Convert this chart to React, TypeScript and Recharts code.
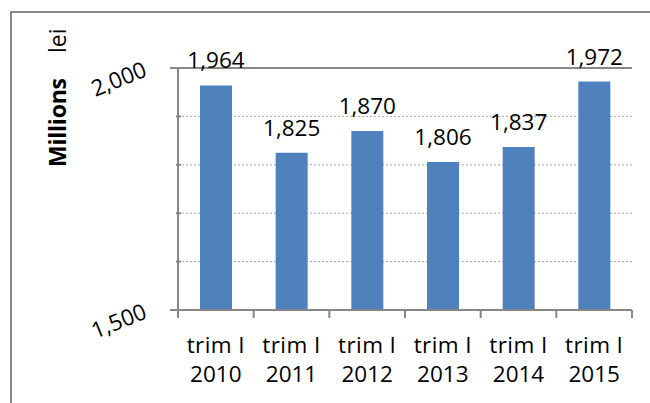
import React from 'react';
import { BarChart, Bar, XAxis, YAxis, CartesianGrid, ReferenceLine, LabelList } from 'recharts';

// first quarter of each year, millions lei
const years = ['2010', '2011', '2012', '2013', '2014', '2015'];
const quarterLabel = 'trim I';
const values = [1964, 1825, 1870, 1806, 1837, 1972];
const yTicks = [1500, 1600, 1700, 1800, 1900, 2000];
const majorTicks = [1500, 2000];

const W = 650;
const H = 403;
const PLOT_LEFT = 178;
const PLOT_RIGHT = 18;
const PLOT_TOP = 68;
const X_AXIS_H = 93;
const BAND = (W - PLOT_LEFT - PLOT_RIGHT) / years.length;

const FONT = '"Open Sans", Lato, sans-serif';
const AXIS_COLOR = '#878787';
const GRID_COLOR = '#a8a8a8';
const BAR_COLOR = '#4f81bd';

const data = years.map((year, i) => ({ name: year, value: values[i] }));

const fmt = (v: number) => v.toLocaleString('en-US');

const YTick = ({ x, y, payload }: any) => {
  const axisX = x + 8;
  const major = majorTicks.includes(payload.value);
  return (
    <g>
      <line
        x1={major ? axisX - 8 : axisX - 2}
        x2={major ? axisX : axisX + 3}
        y1={y}
        y2={y}
        stroke={AXIS_COLOR}
        strokeWidth={2}
      />
      {major && (
        <text
          x={axisX - 32}
          y={y + 2}
          transform={`rotate(-22 ${axisX - 32} ${y + 2})`}
          textAnchor="end"
          dominantBaseline="middle"
          fontFamily={FONT}
          fontSize={22.5}
          fill="#000"
        >
          {fmt(payload.value)}
        </text>
      )}
    </g>
  );
};

const XTick = ({ x, y, payload, index }: any) => {
  const axisY = y - 8;
  const left = x - BAND / 2;
  const right = x + BAND / 2;
  return (
    <g>
      <line x1={left} x2={left} y1={axisY} y2={axisY + 8} stroke={AXIS_COLOR} strokeWidth={2} />
      {index === years.length - 1 && (
        <line x1={right} x2={right} y1={axisY} y2={axisY + 8} stroke={AXIS_COLOR} strokeWidth={2} />
      )}
      <text x={x} y={y + 35} textAnchor="middle" fontFamily={FONT} fontSize={22.5} letterSpacing={0.4} fill="#000">
        {quarterLabel}
      </text>
      <text x={x} y={y + 64} textAnchor="middle" fontFamily={FONT} fontSize={22.5} fill="#000">
        {payload.value}
      </text>
    </g>
  );
};

const YTitle = () => (
  <text transform="rotate(-90)" fontFamily={FONT} fontSize={23} fill="#000">
    <tspan x={-167} y={66} fontWeight="bold" textLength={89} lengthAdjust="spacing">Millions</tspan>
    <tspan x={-53} y={66}>lei</tspan>
  </text>
);

export default function App() {
  return (
    <div style={{ position: 'absolute', left: 0, top: 0, width: W, height: H, overflow: 'hidden', background: '#fff' }}>
      <div
        style={{
          position: 'absolute',
          left: 10,
          top: 11,
          width: 700,
          height: 500,
          borderTop: `2px solid ${AXIS_COLOR}`,
          borderLeft: `2px solid ${AXIS_COLOR}`,
        }}
      />
      <BarChart
        width={W}
        height={H}
        data={data}
        margin={{ top: PLOT_TOP, right: PLOT_RIGHT, bottom: 0, left: 0 }}
        barSize={32}
        style={{ position: 'absolute', left: 0, top: 0 }}
      >
        <CartesianGrid vertical={false} stroke={GRID_COLOR} strokeDasharray="2 2" />
        <XAxis
          dataKey="name"
          height={X_AXIS_H}
          stroke={AXIS_COLOR}
          strokeWidth={2}
          tickLine={false}
          tick={<XTick />}
          interval={0}
        />
        <YAxis
          width={PLOT_LEFT}
          domain={[1500, 2000]}
          ticks={yTicks}
          stroke={AXIS_COLOR}
          strokeWidth={2}
          tickLine={false}
          tick={<YTick />}
          label={<YTitle />}
        />
        <ReferenceLine y={2000} stroke={AXIS_COLOR} strokeWidth={2} />
        <Bar dataKey="value" fill={BAR_COLOR} isAnimationActive={false}>
          <LabelList
            dataKey="value"
            position="top"
            offset={17}
            formatter={(v: any) => fmt(Number(v))}
            style={{ fontFamily: FONT, fontSize: 22.5, fill: '#000' }}
          />
        </Bar>
      </BarChart>
    </div>
  );
}
